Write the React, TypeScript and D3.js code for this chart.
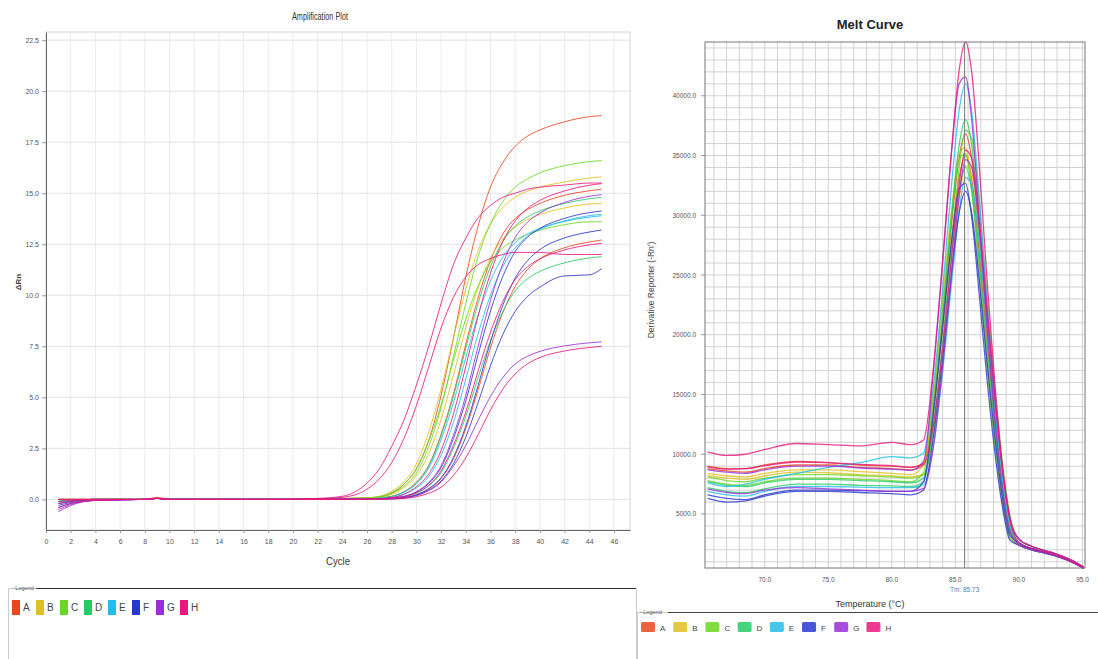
import React, { useRef, useEffect } from "react";
import * as d3 from "d3";

const W = 1098;
const H = 659;
const NARROW = "'Liberation Sans Narrow', 'Liberation Sans', Arial, sans-serif";
const SANS = "'Liberation Sans', Arial, sans-serif";

// wells + colours (legend)
const wells = ["A", "B", "C", "D", "E", "F", "G", "H"];
const wellColors = ["#e8461e", "#e0c01c", "#6cd722", "#25cc64", "#22bde8", "#2a38cc", "#9a2ed8", "#e8187e"];

// ---------- amplification plot ----------
const cycles = [1, 2, 4, 8, 9, 10, 14, 18, 22, 24, 26, 27, 28, 29, 30, 31, 32, 33, 34, 35, 36, 37, 38, 39, 40, 42, 44, 45];
const cycleTicks = [0, 2, 4, 6, 8, 10, 12, 14, 16, 18, 20, 22, 24, 26, 28, 30, 32, 34, 36, 38, 40, 42, 44, 46];
const rnTicks = [0, 2.5, 5, 7.5, 10, 12.5, 15, 17.5, 20, 22.5];

const ampA1 = [0, 0, 0, 0, 0.05, 0, 0, 0, 0.02, 0.05, 0.08, 0.12, 0.3, 0.75, 1.5, 2.9, 5.1, 7.9, 10.9, 13.4, 15.3, 16.5, 17.3, 17.8, 18.1, 18.5, 18.75, 18.8];
const ampA2 = [-0.1, -0.05, 0, 0, 0.1, 0, 0, 0, 0, 0.02, 0.03, 0.06, 0.15, 0.38, 0.84, 1.67, 3.19, 5.17, 7.6, 9.88, 11.7, 13.0, 13.76, 14.2, 14.5, 14.9, 15.12, 15.2];
const ampA3 = [0, 0, 0, 0, 0.05, 0, 0, 0, 0, 0.01, 0.01, 0.02, 0.04, 0.08, 0.22, 0.51, 1.02, 1.98, 3.46, 5.38, 7.42, 9.15, 10.43, 11.26, 11.78, 12.33, 12.61, 12.71];
const ampB1 = [0, 0, 0, 0, 0.05, 0, 0, 0, 0.02, 0.04, 0.08, 0.15, 0.4, 0.87, 1.74, 3.3, 5.4, 7.9, 10.3, 12.2, 13.5, 14.3, 14.8, 15.1, 15.3, 15.55, 15.75, 15.8];
const ampB2 = [0, 0, 0, 0, 0.05, 0, 0, 0, 0.01, 0.03, 0.05, 0.09, 0.25, 0.58, 1.16, 2.25, 3.92, 6.09, 8.41, 10.37, 11.82, 12.76, 13.34, 13.7, 13.96, 14.28, 14.47, 14.5];
const ampC1 = [-0.1, -0.05, 0, 0, 0.05, 0, 0, 0, 0.02, 0.04, 0.06, 0.1, 0.3, 0.65, 1.3, 2.6, 4.5, 7.0, 9.6, 11.9, 13.5, 14.6, 15.3, 15.7, 16.0, 16.35, 16.55, 16.6];
const ampC2 = [0, 0, 0, 0, 0.05, 0, 0, 0, 0.02, 0.04, 0.07, 0.14, 0.34, 0.75, 1.5, 2.86, 4.62, 6.8, 8.84, 10.47, 11.63, 12.31, 12.72, 12.99, 13.19, 13.46, 13.6, 13.6];
const ampD1 = [-0.1, -0.05, 0, 0, 0.05, 0, 0, 0, 0, 0.02, 0.03, 0.06, 0.15, 0.37, 0.81, 1.63, 3.11, 5.03, 7.4, 9.62, 11.4, 12.65, 13.39, 13.84, 14.13, 14.5, 14.73, 14.8];
const ampD2 = [-0.1, -0.05, 0, 0, 0.05, 0, 0, 0, 0, 0.01, 0.01, 0.03, 0.06, 0.12, 0.3, 0.66, 1.31, 2.51, 4.06, 5.98, 7.77, 9.2, 10.22, 10.81, 11.17, 11.59, 11.83, 11.89];
const ampE1 = [-0.1, -0.05, 0, 0, 0.05, 0, 0, 0, 0, 0.01, 0.01, 0.03, 0.08, 0.24, 0.56, 1.12, 2.17, 3.78, 5.88, 8.12, 10.01, 11.41, 12.32, 12.88, 13.23, 13.65, 13.9, 13.97];
const ampE2 = [-0.2, -0.1, 0, 0, 0.05, 0, 0, 0, 0, 0.02, 0.03, 0.06, 0.14, 0.35, 0.76, 1.53, 2.92, 4.73, 6.95, 9.04, 10.7, 11.88, 12.58, 13.0, 13.27, 13.62, 13.83, 13.9];
const ampF1 = [-0.3, -0.15, -0.05, 0, 0.05, 0, 0, 0, 0, 0, 0, 0.01, 0.03, 0.08, 0.23, 0.53, 1.06, 2.06, 3.59, 5.59, 7.71, 9.51, 10.84, 11.7, 12.24, 12.81, 13.1, 13.2];
const ampF2 = [-0.4, -0.2, -0.05, 0, 0.05, 0, 0, 0, 0, 0, 0, 0.01, 0.03, 0.07, 0.19, 0.45, 0.9, 1.75, 3.05, 4.75, 6.55, 8.08, 9.21, 9.94, 10.4, 10.95, 11.0, 11.3];
const ampF3 = [-0.2, -0.1, 0, 0, 0.05, 0, 0, 0, 0, 0.01, 0.01, 0.03, 0.07, 0.14, 0.36, 0.78, 1.56, 2.98, 4.83, 7.1, 9.23, 10.93, 12.14, 12.85, 13.28, 13.77, 14.05, 14.13];
const ampG1 = [-0.5, -0.25, -0.05, 0, 0.05, 0, 0, 0, 0, 0.01, 0.01, 0.03, 0.07, 0.15, 0.38, 0.83, 1.65, 3.15, 5.1, 7.5, 9.75, 11.55, 12.83, 13.58, 14.03, 14.55, 14.85, 14.93];
const ampG2 = [-0.6, -0.3, -0.05, 0, 0.05, 0, 0, 0, 0, 0, 0.01, 0.02, 0.04, 0.08, 0.19, 0.43, 0.85, 1.63, 2.64, 3.88, 5.04, 5.97, 6.63, 7.01, 7.25, 7.52, 7.67, 7.72];
const ampH1 = [0, 0, 0, 0, 0.05, 0, 0, 0, 0.05, 0.15, 0.8, 1.5, 2.6, 3.9, 5.6, 7.5, 9.6, 11.5, 12.8, 13.8, 14.4, 14.8, 15.0, 15.2, 15.3, 15.4, 15.5, 15.5];
const ampH2 = [0, 0, 0, 0, 0.05, 0, 0, 0, 0.03, 0.1, 0.5, 1.0, 1.8, 3.0, 4.6, 6.5, 8.4, 9.9, 10.9, 11.5, 11.8, 12.0, 12.1, 12.1, 12.1, 12.0, 12.0, 12.0];
const ampH3 = [-0.2, -0.1, 0, 0, 0.05, 0, 0, 0, 0, 0.01, 0.01, 0.03, 0.09, 0.26, 0.62, 1.24, 2.4, 4.19, 6.51, 8.99, 11.08, 12.63, 13.64, 14.26, 14.65, 15.11, 15.39, 15.47];
const ampH4 = [-0.1, -0.05, 0, 0, 0.05, 0, 0, 0, 0, 0.01, 0.01, 0.03, 0.06, 0.13, 0.32, 0.69, 1.39, 2.65, 4.28, 6.3, 8.19, 9.7, 10.77, 11.4, 11.78, 12.22, 12.47, 12.54];
const ampH5 = [-0.4, -0.2, -0.05, 0, 0.05, 0, 0, 0, 0, 0, 0, 0.01, 0.02, 0.05, 0.13, 0.3, 0.6, 1.17, 2.04, 3.17, 4.38, 5.4, 6.15, 6.64, 6.95, 7.27, 7.44, 7.5];

const ampCurves = [
  { well: 0, values: ampA1 }, { well: 0, values: ampA2 }, { well: 0, values: ampA3 },
  { well: 1, values: ampB1 }, { well: 1, values: ampB2 },
  { well: 2, values: ampC1 }, { well: 2, values: ampC2 },
  { well: 3, values: ampD1 }, { well: 3, values: ampD2 },
  { well: 4, values: ampE1 }, { well: 4, values: ampE2 },
  { well: 5, values: ampF1 }, { well: 5, values: ampF2 }, { well: 5, values: ampF3 },
  { well: 6, values: ampG1 }, { well: 6, values: ampG2 },
  { well: 7, values: ampH1 }, { well: 7, values: ampH2 }, { well: 7, values: ampH3 },
  { well: 7, values: ampH4 }, { well: 7, values: ampH5 },
];

// ---------- melt curve ----------
const meltTemps = [65.5, 67, 68.5, 70, 72.5, 75, 77.5, 80, 81.5, 82.5, 83.3, 84, 84.7, 85.3, 85.8, 86.3, 86.9, 87.5, 88.1, 88.7, 89.3, 90, 91, 92.5, 94, 95.1];
const tempTicks = [70, 75, 80, 85, 90, 95];
const derivTicks = [5000, 10000, 15000, 20000, 25000, 30000, 35000, 40000];
const tmValue = 85.73;

const meltA1 = [9000, 8800, 8800, 9100, 9400, 9300, 9100, 9000, 8900, 9300, 14480, 21460, 29270, 34850, 36800, 34590, 27970, 20240, 13250, 7360, 3680, 2600, 2100, 1700, 1100, 500];
const meltA2 = [8800, 8600, 8500, 8800, 9100, 9100, 8900, 8800, 8700, 9100, 13960, 20540, 27900, 33160, 35000, 32900, 26600, 19250, 12600, 7000, 3500, 2600, 2100, 1700, 1100, 500];
const meltB1 = [8400, 8200, 8100, 8400, 8700, 8700, 8550, 8400, 8300, 9100, 15500, 22980, 30460, 35170, 35640, 32400, 25200, 17640, 11160, 6120, 3060, 2400, 2000, 1600, 1050, 450];
const meltB2 = [8200, 8000, 7900, 8200, 8500, 8450, 8300, 8200, 8100, 8350, 11800, 17870, 25260, 31330, 34160, 33470, 28290, 21390, 14490, 8630, 4490, 2900, 2300, 1800, 1200, 550];
const meltC1 = [8100, 7800, 7700, 8000, 8300, 8300, 8200, 8100, 8000, 8250, 12130, 18920, 27180, 33960, 37130, 36380, 30750, 23250, 15750, 9380, 4880, 2900, 2300, 1800, 1200, 550];
const meltC2 = [7800, 7500, 7400, 7700, 8000, 8000, 7900, 7800, 7700, 8500, 14930, 22430, 29940, 34670, 35150, 31950, 24850, 17400, 11010, 6040, 3020, 2400, 2000, 1600, 1050, 450];
const meltD1 = [7700, 7400, 7300, 7600, 7900, 7900, 7800, 7700, 7600, 8000, 13680, 21280, 29790, 35870, 38000, 35720, 28880, 20900, 13680, 7600, 3800, 2600, 2100, 1700, 1100, 500];
const meltD2 = [7200, 6900, 6800, 7100, 7500, 7500, 7400, 7350, 7300, 7700, 12640, 19320, 26790, 32130, 34000, 31960, 25840, 18700, 12240, 6800, 3400, 2600, 2100, 1700, 1100, 500];
const meltE1 = [7600, 7300, 7500, 7900, 8400, 8900, 9300, 9800, 9700, 10100, 15960, 23790, 32550, 38810, 41000, 38540, 31160, 22550, 14760, 8200, 4100, 2600, 2100, 1700, 1100, 500];
const meltE2 = [6900, 6600, 6500, 6900, 7300, 7300, 7250, 7200, 7200, 7450, 10880, 16930, 24300, 30340, 33170, 32500, 27470, 20770, 14070, 8380, 4360, 2900, 2300, 1800, 1200, 550];
const meltF1 = [6600, 6300, 6200, 6600, 7000, 7000, 6950, 6900, 6900, 7700, 13690, 20730, 27780, 32220, 32670, 29700, 23100, 16170, 10230, 5610, 2800, 2400, 2000, 1600, 1050, 450];
const meltF2 = [6300, 6000, 6100, 6500, 6900, 6900, 6800, 6700, 6600, 7000, 11680, 18030, 25140, 30220, 32000, 30080, 24320, 17600, 11520, 6400, 3200, 2600, 2100, 1700, 1100, 500];
const meltG1 = [8700, 8500, 8400, 8700, 9000, 9000, 8850, 8750, 8650, 9400, 17280, 26300, 35320, 41000, 41580, 37800, 29400, 20580, 13020, 7140, 3570, 2400, 2000, 1600, 1050, 450];
const meltG2 = [7100, 6800, 6700, 7000, 7200, 7100, 7000, 6900, 6900, 7150, 10830, 17300, 25170, 31630, 34650, 33950, 28700, 21700, 14700, 8750, 4550, 2900, 2300, 1800, 1200, 550];
const meltH1 = [10200, 9900, 10000, 10400, 10900, 10800, 10700, 11000, 10800, 11200, 17540, 25970, 35400, 42140, 44500, 41830, 33820, 24480, 16020, 8900, 4450, 2600, 2100, 1700, 1100, 500];
const meltH2 = [8950, 8750, 8800, 9050, 9350, 9300, 9150, 9050, 8900, 9150, 12670, 18850, 26390, 32570, 35440, 34730, 29360, 22200, 15040, 8950, 4650, 2900, 2300, 1800, 1200, 550];

const meltCurves = [
  { well: 0, values: meltA1 }, { well: 0, values: meltA2 },
  { well: 1, values: meltB1 }, { well: 1, values: meltB2 },
  { well: 2, values: meltC1 }, { well: 2, values: meltC2 },
  { well: 3, values: meltD1 }, { well: 3, values: meltD2 },
  { well: 4, values: meltE1 }, { well: 4, values: meltE2 },
  { well: 5, values: meltF1 }, { well: 5, values: meltF2 },
  { well: 6, values: meltG1 }, { well: 6, values: meltG2 },
  { well: 7, values: meltH1 }, { well: 7, values: meltH2 },
];

function App() {
  const svgRef = useRef(null);

  useEffect(() => {
    const svg = d3.select(svgRef.current);
    svg.selectAll("*").remove();

    svg.append("rect").attr("width", W).attr("height", H).attr("fill", "#fff");

    // ===== amplification plot =====
    const x = d3.scaleLinear().domain([0, 47.3]).range([46, 630]);
    const y = d3.scaleLinear().domain([-1.5, 22.9]).range([530, 32]);
    const amp = svg.append("g");

    amp.append("text")
      .attr("x", 320).attr("y", 20)
      .attr("text-anchor", "middle")
      .attr("font-family", NARROW).attr("font-size", 10).attr("fill", "#333")
      .attr("textLength", 56).attr("lengthAdjust", "spacingAndGlyphs")
      .text("Amplification Plot");

    // grid
    amp.selectAll(".vgrid").data(cycleTicks.slice(1)).join("line")
      .attr("x1", d => x(d)).attr("x2", d => x(d))
      .attr("y1", 32).attr("y2", 530)
      .attr("stroke", "#ececec");
    amp.selectAll(".hgrid").data(rnTicks).join("line")
      .attr("x1", 46).attr("x2", 630)
      .attr("y1", d => y(d)).attr("y2", d => y(d))
      .attr("stroke", "#e2e2e2");
    amp.append("rect")
      .attr("x", 46).attr("y", 32).attr("width", 584).attr("height", 498)
      .attr("fill", "none").attr("stroke", "#d4d4d4");

    const ampLine = d3.line<number>()
      .x((d, i) => x(cycles[i]))
      .y(d => y(d))
      .curve(d3.curveMonotoneX);

    amp.selectAll(".amp").data(ampCurves).join("path")
      .attr("d", d => ampLine(d.values))
      .attr("fill", "none")
      .attr("stroke", d => wellColors[d.well])
      .attr("stroke-width", 1)
      .attr("stroke-opacity", 0.85);

    // axes
    const xAxis = amp.append("g").attr("transform", "translate(0,530)")
      .call(d3.axisBottom(x).tickValues(cycleTicks).tickSize(3).tickSizeOuter(0).tickFormat(d3.format("d")));
    const yAxis = amp.append("g").attr("transform", "translate(46,0)")
      .call(d3.axisLeft(y).tickValues(rnTicks).tickSize(4).tickSizeOuter(0).tickFormat(d3.format(".1f")));
    [xAxis, yAxis].forEach(a => {
      a.select(".domain").attr("stroke", "#666");
      a.selectAll(".tick line").attr("stroke", "#999");
      a.selectAll("text").attr("font-family", NARROW).attr("font-size", 7).attr("fill", "#555");
    });
    xAxis.selectAll("text").attr("dy", "1.2em");

    amp.append("text")
      .attr("transform", "translate(21,282) rotate(-90)")
      .attr("text-anchor", "middle")
      .attr("font-family", SANS).attr("font-size", 8).attr("font-weight", "bold").attr("fill", "#444")
      .text("ΔRn");
    amp.append("text")
      .attr("x", 338).attr("y", 565)
      .attr("text-anchor", "middle")
      .attr("font-family", NARROW).attr("font-size", 10.5).attr("fill", "#333")
      .attr("textLength", 24).attr("lengthAdjust", "spacingAndGlyphs")
      .text("Cycle");

    // ===== melt curve =====
    const mx = d3.scaleLinear().domain([65.3, 95.2]).range([705, 1085]);
    const my = d3.scaleLinear().domain([480, 44500]).range([568, 42]);
    const melt = svg.append("g");

    melt.append("text")
      .attr("x", 870).attr("y", 29)
      .attr("text-anchor", "middle")
      .attr("font-family", SANS).attr("font-size", 13).attr("font-weight", "bold").attr("fill", "#222")
      .text("Melt Curve");

    melt.selectAll(".mv").data(d3.range(66, 96)).join("line")
      .attr("x1", d => mx(d)).attr("x2", d => mx(d))
      .attr("y1", 42).attr("y2", 568)
      .attr("stroke", "#d2d2d2");
    melt.selectAll(".mh").data(d3.range(1000, 44600, 1000)).join("line")
      .attr("x1", 705).attr("x2", 1085)
      .attr("y1", d => my(d)).attr("y2", d => my(d))
      .attr("stroke", "#d2d2d2");

    const meltLine = d3.line<number>()
      .x((d, i) => mx(meltTemps[i]))
      .y(d => my(d))
      .curve(d3.curveMonotoneX);

    melt.selectAll(".melt").data(meltCurves).join("path")
      .attr("d", d => meltLine(d.values))
      .attr("fill", "none")
      .attr("stroke", d => wellColors[d.well])
      .attr("stroke-width", 1.3)
      .attr("stroke-opacity", 0.8);

    melt.append("line")
      .attr("x1", mx(tmValue)).attr("x2", mx(tmValue))
      .attr("y1", 42).attr("y2", 568)
      .attr("stroke", "#777").attr("stroke-width", 1);

    melt.append("rect")
      .attr("x", 705).attr("y", 42).attr("width", 380).attr("height", 526)
      .attr("fill", "none").attr("stroke", "#777");

    melt.selectAll(".mxt").data(tempTicks).join("text")
      .attr("x", d => mx(d)).attr("y", 582)
      .attr("text-anchor", "middle")
      .attr("font-family", SANS).attr("font-size", 6.5).attr("fill", "#555")
      .text(d => d3.format(".1f")(d));
    melt.selectAll(".myt").data(derivTicks).join("text")
      .attr("x", 696).attr("y", d => my(d) + 2.5)
      .attr("text-anchor", "end")
      .attr("font-family", SANS).attr("font-size", 6.5).attr("fill", "#555")
      .text(d => d3.format(".1f")(d));
    melt.selectAll(".mytk").data(derivTicks).join("line")
      .attr("x1", 701).attr("x2", 705)
      .attr("y1", d => my(d)).attr("y2", d => my(d))
      .attr("stroke", "#999");

    melt.append("text")
      .attr("x", mx(tmValue)).attr("y", 592)
      .attr("text-anchor", "middle")
      .attr("font-family", SANS).attr("font-size", 6.5).attr("fill", "#4a7cc4")
      .text("Tm: " + tmValue.toFixed(2));
    melt.append("text")
      .attr("x", 870).attr("y", 607)
      .attr("text-anchor", "middle")
      .attr("font-family", SANS).attr("font-size", 9).attr("fill", "#333")
      .text("Temperature (°C)");
    melt.append("text")
      .attr("transform", "translate(654,290) rotate(-90)")
      .attr("text-anchor", "middle")
      .attr("font-family", SANS).attr("font-size", 8.5).attr("fill", "#444")
      .text("Derivative Reporter (-Rn')");

    // ===== legends =====
    const leg1 = svg.append("g");
    leg1.append("rect")
      .attr("x", 8.5).attr("y", 588.5).attr("width", 628).attr("height", 80)
      .attr("fill", "#fff").attr("stroke", "#c4ccd4");
    leg1.append("line")
      .attr("x1", 36).attr("x2", 636).attr("y1", 588.5).attr("y2", 588.5)
      .attr("stroke", "#333");
    leg1.append("text")
      .attr("x", 12).attr("y", 590)
      .attr("font-family", SANS).attr("font-size", 5.5).attr("fill", "#555")
      .text("- Legend");
    const item1 = leg1.selectAll(".li").data(wells).join("g")
      .attr("transform", (d, i) => `translate(${12 + i * 24},600)`);
    item1.append("rect").attr("width", 8).attr("height", 15)
      .attr("fill", (d, i) => wellColors[i]);
    item1.append("text").attr("x", 11).attr("y", 11)
      .attr("font-family", NARROW).attr("font-size", 10).attr("fill", "#444")
      .text(d => d);

    const leg2 = svg.append("g");
    leg2.append("rect")
      .attr("x", 637.5).attr("y", 612.5).attr("width", 470).attr("height", 60)
      .attr("fill", "#fff").attr("stroke", "#c4ccd4");
    leg2.append("line")
      .attr("x1", 668).attr("x2", 1098).attr("y1", 612.5).attr("y2", 612.5)
      .attr("stroke", "#444");
    leg2.append("text")
      .attr("x", 640).attr("y", 614)
      .attr("font-family", SANS).attr("font-size", 5.5).attr("fill", "#555")
      .text("- Legend");
    const item2 = leg2.selectAll(".li").data(wells).join("g")
      .attr("transform", (d, i) => `translate(${641 + i * 32.2},622)`);
    item2.append("rect").attr("width", 14).attr("height", 10).attr("rx", 1.5)
      .attr("fill", (d, i) => wellColors[i]).attr("fill-opacity", 0.85);
    item2.append("text").attr("x", 19).attr("y", 9)
      .attr("font-family", SANS).attr("font-size", 8).attr("fill", "#444")
      .text(d => d);
  }, []);

  return (
    <svg
      ref={svgRef}
      width={W}
      height={H}
      style={{ position: "absolute", left: 0, top: 0 }}
    ></svg>
  );
}

export default App;
